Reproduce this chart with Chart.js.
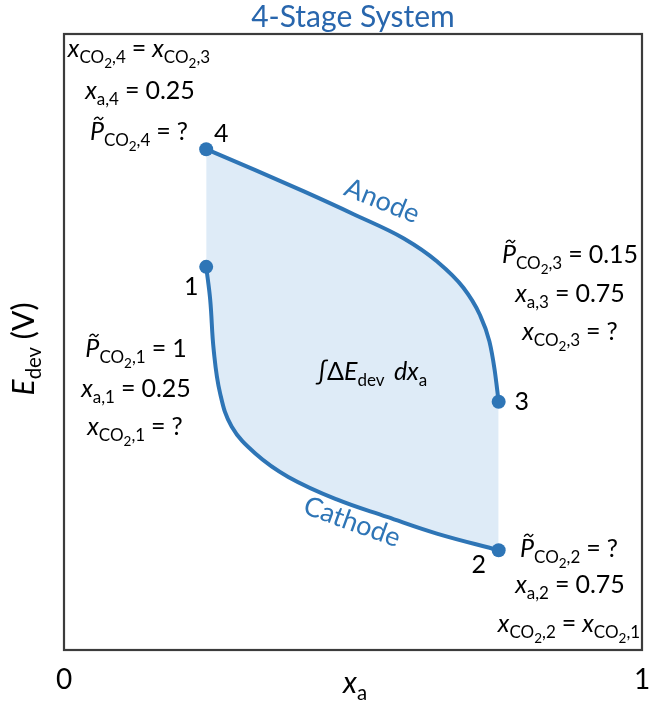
<!DOCTYPE html>
<html>
<head>
<meta charset="utf-8">
<title>4-Stage System</title>
<script src="https://cdn.jsdelivr.net/npm/chart.js@4.4.1/dist/chart.umd.min.js"></script>
<style>
    html, body { margin: 0; padding: 0; background: #ffffff; }
    #wrap { width: 649px; height: 707px; }
</style>
</head>
<body>
<div id="wrap"><canvas id="chart"></canvas></div>
<script>
// Valores (x = fracción x_a, y = E_dev en unidades arbitrarias 0..1)
const X_TICKS = [0, 1];
const ANODE_X = [0.246, 0.331, 0.416, 0.502, 0.588, 0.645, 0.691, 0.719, 0.736, 0.745, 0.752];
const ANODE_Y = [0.813, 0.779, 0.744, 0.707, 0.668, 0.631, 0.588, 0.545, 0.501, 0.455, 0.403];
const CATHODE_X = [0.246, 0.253, 0.259, 0.270, 0.290, 0.331, 0.388, 0.473, 0.559, 0.645, 0.752];
const CATHODE_Y = [0.622, 0.568, 0.487, 0.417, 0.363, 0.319, 0.281, 0.244, 0.216, 0.189, 0.162];

// Colores
const BLUE = '#2e75b6';
const TITLE_BLUE = '#2866ad';
const FILL = '#deebf7';
const FONT = 'Lato, "Open Sans", sans-serif';

// Tipos de fragmento para el texto con subíndices
const KINDS = {
    n: { size: 1, dy: 0, style: '' },
    i: { size: 1, dy: 0, style: 'italic ' },
    p: { size: 1, dy: 0, style: 'italic ', tilde: true },
    q: { size: 1, dy: 0, style: '', gap: 0.24 },
    w: { size: 1, dy: 0, style: '', gap: 0.06 },
    s: { size: 0.68, dy: 0.24, style: '' },
    ss: { size: 0.54, dy: 0.42, style: '' }
};

// Fragmentos reutilizables
const xCO2 = (n) => [['x', 'i'], ['CO', 's'], ['2', 'ss'], [',' + n, 's']];
const pCO2 = (n) => [['P', 'p'], ['CO', 's'], ['2', 'ss'], [',' + n, 's']];
const xa = (n) => [['x', 'i'], ['a,' + n, 's']];

// Bloques de anotaciones: [x centro, línea base, fragmentos]
const NOTES = [
    [139, 57, [...xCO2(4), ['=', 'q'], ...xCO2(3)]],
    [140, 99, [...xa(4), ['=', 'q'], ['0.25', 'n']]],
    [139, 140, [...pCO2(4), ['=', 'q'], ['?', 'n']]],
    [136, 357, [...pCO2(1), ['=', 'q'], ['1', 'n']]],
    [136, 397, [...xa(1), ['=', 'q'], ['0.25', 'n']]],
    [135, 435, [...xCO2(1), ['=', 'q'], ['?', 'n']]],
    [570, 263, [...pCO2(3), ['=', 'q'], ['0.15', 'n']]],
    [570, 302, [...xa(3), ['=', 'q'], ['0.75', 'n']]],
    [570, 340, [...xCO2(3), ['=', 'q'], ['?', 'n']]],
    [569, 557, [...pCO2(2), ['=', 'q'], ['?', 'n']]],
    [570, 593, [...xa(2), ['=', 'q'], ['0.75', 'n']]],
    [569, 632, [...xCO2(2), ['=', 'q'], ...xCO2(1)]],
    [372, 380, [['∫', 'i'], ['Δ', 'n'], ['E', 'i'], ['dev', 's'], [' ', 'w'], ['d', 'i'], ['x', 'i'], ['a', 's']]]
];

// Dibuja una pequeña tilde sobre la P
const drawTilde = (ctx, cx, y, fs, color) => {
    const w = fs * 0.36;
    const a = fs * 0.07;
    ctx.save();
    ctx.strokeStyle = color;
    ctx.lineWidth = 1.4;
    ctx.beginPath();
    ctx.moveTo(cx - w / 2, y + a * 0.6);
    ctx.bezierCurveTo(cx - w / 4, y - a * 1.6, cx, y - a * 0.6, cx + w * 0.05, y);
    ctx.bezierCurveTo(cx + w / 6, y + a * 1.2, cx + w / 3, y + a * 0.4, cx + w / 2, y - a * 0.8);
    ctx.stroke();
    ctx.restore();
}

// Dibuja texto con subíndices centrado en x
const drawRich = (ctx, parts, x, y, size, color) => {
    const items = parts.map(([text, kind]) => {
        const k = KINDS[kind];
        const fs = size * k.size;
        const font = `${k.style}${fs}px ${FONT}`;
        ctx.font = font;
        const pad = (k.gap || 0) * size;
        return { text, k, fs, font, pad, w: ctx.measureText(text).width + 2 * pad };
    });
    const total = items.reduce((acc, it) => acc + it.w, 0);
    let cx = x - total / 2;
    ctx.fillStyle = color;
    ctx.textAlign = 'left';
    ctx.textBaseline = 'alphabetic';
    items.forEach(it => {
        ctx.font = it.font;
        ctx.fillText(it.text, cx + it.pad, y + it.k.dy * size);
        if (it.k.tilde) {
            drawTilde(ctx, cx + it.w * 0.62, y - it.fs * 0.86, it.fs, color);
        }
        cx += it.w;
    });
}

// Etiquetas de los puntos: dataset, índice, texto, desplazamiento en px
const POINT_LABELS = [
    [0, 0, '4', 15, -7],
    [1, 0, '1', -15, 28],
    [0, 10, '3', 23, 8],
    [1, 10, '2', -20, 23]
];

// Plugin con el marco y todos los textos
const annotations = {
    id: 'annotations',
    afterDraw(chart) {
        const { ctx, chartArea } = chart;
        ctx.save();
        // Marco del área del gráfico
        ctx.strokeStyle = '#3c3c3c';
        ctx.lineWidth = 2.2;
        ctx.strokeRect(chartArea.left, chartArea.top, chartArea.right - chartArea.left, chartArea.bottom - chartArea.top);

        // Anotaciones
        NOTES.forEach(([x, y, parts]) => drawRich(ctx, parts, x, y, 25, '#000000'));

        // Números de los estados
        ctx.font = `25px ${FONT}`;
        ctx.fillStyle = '#000000';
        ctx.textAlign = 'center';
        ctx.textBaseline = 'alphabetic';
        POINT_LABELS.forEach(([ds, idx, text, dx, dy]) => {
            const el = chart.getDatasetMeta(ds).data[idx];
            ctx.fillText(text, el.x + dx, el.y + dy);
        });

        // Nombres de las curvas
        const curveLabel = (text, x, y, angle) => {
            ctx.save();
            ctx.translate(x, y);
            ctx.rotate(angle * Math.PI / 180);
            ctx.font = `27px ${FONT}`;
            ctx.fillStyle = BLUE;
            ctx.textAlign = 'center';
            ctx.textBaseline = 'middle';
            ctx.fillText(text, 0, 0);
            ctx.restore();
        };
        curveLabel('Anode', 382, 201, 22);
        curveLabel('Cathode', 352, 522, 20);

        // Títulos de los ejes
        drawRich(ctx, [['x', 'i'], ['a', 's']], 355, 693, 30, '#000000');
        ctx.save();
        ctx.translate(34, 349);
        ctx.rotate(-Math.PI / 2);
        drawRich(ctx, [['E', 'i'], ['dev', 's'], [' (V)', 'n']], 0, 0, 30, '#000000');
        ctx.restore();
        ctx.restore();
    }
};

const toPoints = (xs, ys) => xs.map((x, i) => ({ x: x, y: ys[i] }));

// Radio solo en los extremos de cada curva
const endRadius = (ctx) => (ctx.dataIndex === 0 || ctx.dataIndex === ctx.dataset.data.length - 1) ? 7 : 0;

new Chart(document.getElementById('chart'), {
    type: 'scatter',
    data: {
        datasets: [{
            label: 'Anode',
            data: toPoints(ANODE_X, ANODE_Y),
            showLine: true,
            cubicInterpolationMode: 'monotone',
            borderColor: BLUE,
            borderWidth: 4,
            backgroundColor: FILL,
            pointBackgroundColor: BLUE,
            pointBorderWidth: 0,
            pointRadius: endRadius,
            fill: '+1'
        }, {
            label: 'Cathode',
            data: toPoints(CATHODE_X, CATHODE_Y),
            showLine: true,
            tension: 0.4,
            borderColor: BLUE,
            borderWidth: 4,
            pointBackgroundColor: BLUE,
            pointBorderWidth: 0,
            pointRadius: endRadius,
            fill: false
        }]
    },
    options: {
        responsive: true,
        maintainAspectRatio: false,
        animation: false,
        layout: { padding: { top: 0, right: 2, bottom: 0, left: 0 } },
        plugins: {
            legend: { display: false },
            tooltip: { enabled: false },
            filler: { drawTime: 'beforeDatasetsDraw' },
            title: {
                display: true,
                fullSize: false,
                text: '4-Stage System',
                color: TITLE_BLUE,
                font: { family: FONT, size: 30, weight: 'normal', lineHeight: 1.0 },
                padding: { top: 2, bottom: 2 }
            }
        },
        scales: {
            x: {
                type: 'linear',
                min: X_TICKS[0],
                max: X_TICKS[X_TICKS.length - 1],
                grid: { display: false },
                border: { display: false },
                ticks: {
                    stepSize: 1,
                    padding: 5,
                    color: '#000000',
                    font: { family: FONT, size: 28 }
                },
                afterFit: (scale) => {
                    scale.height = 57;
                    scale.paddingLeft = 0;
                    scale.paddingRight = 0;
                }
            },
            y: {
                type: 'linear',
                min: 0,
                max: 1,
                grid: { display: false },
                border: { display: false },
                ticks: { display: false },
                afterFit: (scale) => {
                    scale.width = 64;
                }
            }
        }
    },
    plugins: [annotations]
});
</script>
</body>
</html>
